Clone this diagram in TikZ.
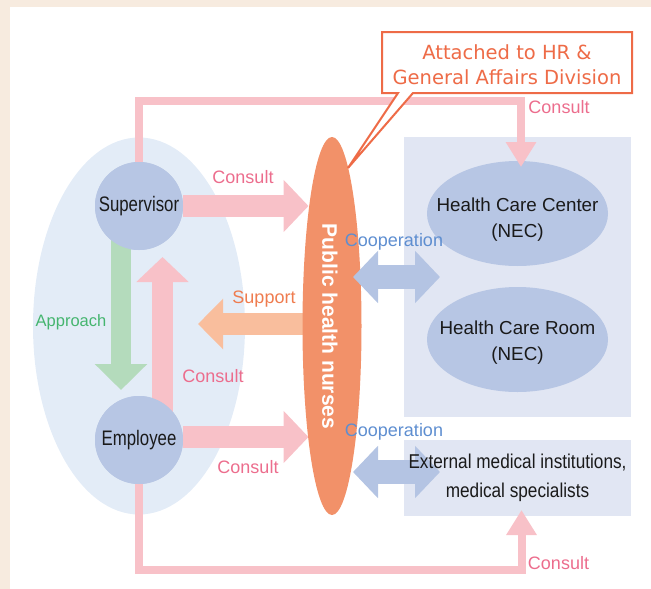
\documentclass[tikz,border=0pt]{standalone}
\usepackage{fontspec}
\setmainfont{Liberation Sans}
\newfontfamily\condfont[FakeStretch=0.8]{Liberation Sans}
\newfontfamily\extfont[FakeStretch=0.86]{Liberation Sans}
\newfontfamily\callfont{DejaVu Sans}
\usetikzlibrary{arrows.meta,calc,shapes.geometric}
\definecolor{beige}{HTML}{F7EBDF}
\definecolor{grpblue}{HTML}{E3ECF7}
\definecolor{circblue}{HTML}{B7C6E4}
\definecolor{pinkarr}{HTML}{F8C1C8}
\definecolor{pinktxt}{HTML}{EC6D8D}
\definecolor{greenarr}{HTML}{B4DBBC}
\definecolor{greentxt}{HTML}{45B56F}
\definecolor{orangearr}{HTML}{F9BE9D}
\definecolor{orangetxt}{HTML}{EF7C4F}
\definecolor{nursecol}{HTML}{F29169}
\definecolor{callcol}{HTML}{EE6B47}
\definecolor{panelcol}{HTML}{E1E6F3}
\definecolor{cooparr}{HTML}{B4C4E3}
\definecolor{cooptxt}{HTML}{5E8ED0}
\definecolor{inktxt}{HTML}{1A1A1A}
\begin{document}
\begin{tikzpicture}[x=1pt,y=-1pt,
  every node/.style={inner sep=0pt,outer sep=0pt},
  lbl/.style={font=\fontsize{18}{21}\selectfont,anchor=base},
  person/.style={circle,fill=circblue,minimum size=88pt,text=inktxt,font=\condfont\fontsize{21}{24}\selectfont},
  carebox/.style={ellipse,fill=circblue,minimum width=181pt,minimum height=105pt},
  caretxt/.style={align=center,text=inktxt,font=\fontsize{18.8}{25.5}\selectfont},
  pinkline/.style={draw=pinkarr,line width=8pt,-{Triangle[length=25pt,width=29pt]}},
  fatpink/.style={draw=pinkarr,line width=22pt,-{Triangle[length=25pt,width=51pt]}},
  fatgreen/.style={draw=greenarr,line width=20pt,-{Triangle[length=26pt,width=51pt]}},
  fatorange/.style={draw=orangearr,line width=22pt,-{Triangle[length=25pt,width=49pt]}},
  coop/.style={draw=cooparr,line width=24pt,{Triangle[length=25pt,width=51pt]}-{Triangle[length=25pt,width=51pt]}}]
\useasboundingbox (0,0) rectangle (651,589);
\fill[beige] (0,0) rectangle (651,7);
\fill[beige] (0,0) rectangle (10,589);

% group and panels
\node[ellipse,fill=grpblue,minimum width=212pt,minimum height=377pt] (grp) at (139,326) {};
\node[fill=panelcol,minimum width=227pt,minimum height=280pt,anchor=north west] (care) at (404,137) {};
\node[fill=panelcol,minimum width=227pt,minimum height=76pt,anchor=north west] (ext) at (404,440) {};
\node[carebox] (hcc) at (517.5,213.5) {};
\node[carebox] (hcr) at (517.5,339.5) {};
\node[caretxt] (hcctxt) at ($(hcc.center)+(0,6)$) {Health Care Center\\(NEC)};
\node[caretxt] (hcrtxt) at ($(hcr.center)+(0,3)$) {Health Care Room\\(NEC)};

\node[ellipse,minimum width=59pt,minimum height=378pt] (nur) at (332,326) {};
\node[person] (sup) at (139,206) {};
\node[person] (emp) at (139,440) {};

\coordinate (topy) at (0,100.5);
\coordinate (boty) at (0,570);

% long consult lines
\draw[pinkline] (sup.north) -- (sup.north |- topy) -| ($(hcc.north)+(3.5,6)$);
\draw[pinkline] (emp.south) -- (emp.south |- boty) -| ($(ext.south)+(4,-6)$);

% arrows in group
\draw[fatgreen] ($(sup.center)+(-18,0)$) -- ($(emp.north)+(-18,-6)$);
\draw[fatpink,line width=21pt] ($(emp.center)+(23.5,0)$) -- ($(sup.south)+(23.5,7)$);
\draw[fatpink] (sup.east) -- ($(sup.east -| nur.west)+(6,0)$);
\draw[fatpink] ($(emp.east)+(0,-3)$) -- ($(emp.east -| nur.west)+(6,-3)$);
\coordinate (suptip) at (198,324);
\draw[fatorange] ($(nur.center)+(0,-2)$) -- (suptip);

% nurses
\fill[nursecol] (nur.center) ellipse [x radius=29.5pt, y radius=189pt];
\node[rotate=-90,text=white,font=\bfseries\fontsize{21}{24}\selectfont] (nurtxt) at ($(nur.center)+(-2,0.5)$) {Public health nurses};

% people
\node[person] at (sup) {Supervisor};
\node[person] at (emp) {Employee};

% cooperation
\draw[coop] ($(nur.east)+(-8.5,-49)$) -- ($(care.west)+(36,0)$);
\draw[coop] ($(nur.east)+(-8.5,146)$) -- ($(ext.west)+(36,-6)$);
\node[align=center,text=inktxt,font=\extfont\fontsize{20}{29}\selectfont] (exttxt) at (ext.center) {External medical institutions,\\medical specialists};

% labels
\node[lbl,text=pinktxt] at (559,113) {Consult};
\node[lbl,text=pinktxt] at (243,183) {Consult};
\node[lbl,text=orangetxt] at (264,303) {Support};
\node[lbl,text=greentxt,font=\fontsize{16.5}{20}\selectfont] at (71,326) {Approach};
\node[lbl,text=pinktxt] at (213,382) {Consult};
\node[lbl,text=pinktxt] at (248,473) {Consult};
\node[lbl,text=pinktxt] at (558.5,569) {Consult};
\node[lbl,text=cooptxt] at (394,246) {Cooperation};
\node[lbl,text=cooptxt] at (394,436) {Cooperation};

% callout
\node[minimum width=250pt,minimum height=61pt,anchor=north west] (call) at (382,32) {};
\coordinate (calltip) at ($(nur.center)+(16,-158)$);
\draw[callcol,line width=2pt,fill=white,line join=miter]
  (call.north west) -- (call.north east) -- (call.south east)
  -- ($(call.south west)+(31,0)$) -- (calltip) -- ($(call.south west)+(16,0)$)
  -- (call.south west) -- cycle;
\node[align=center,text=callcol,font=\callfont\fontsize{19.5}{25}\selectfont] at ($(call.center)+(0,2)$) {Attached to HR \&\\General Affairs Division};
\end{tikzpicture}
\end{document}
